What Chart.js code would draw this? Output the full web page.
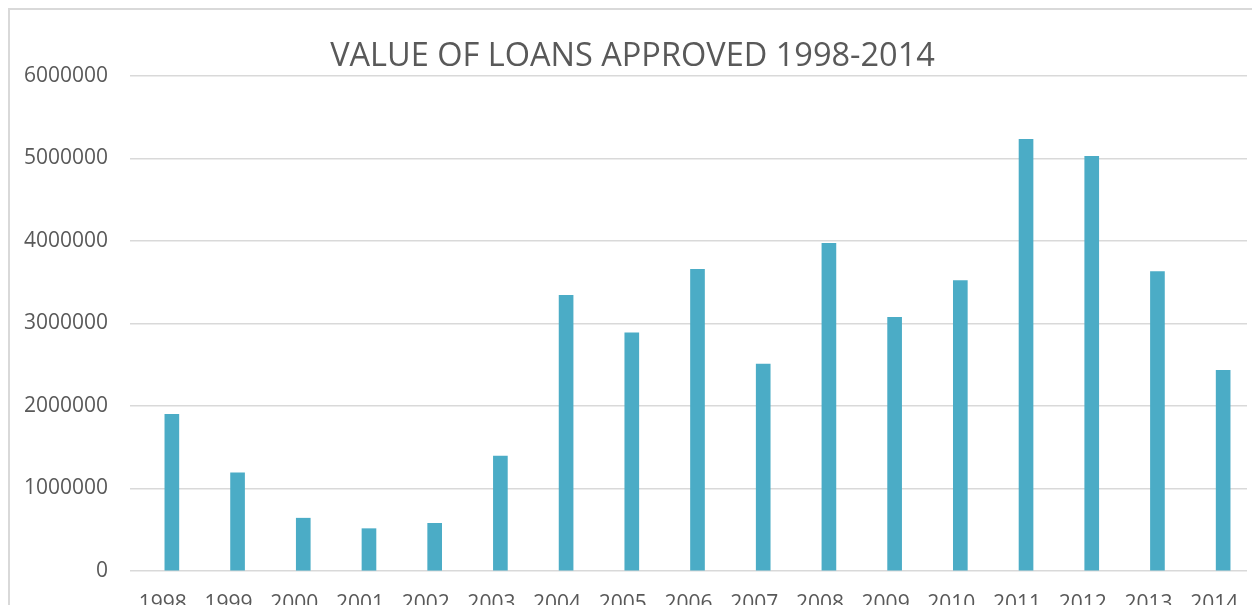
<!DOCTYPE html>
<html>
<head>
<meta charset="utf-8">
<script src="https://cdn.jsdelivr.net/npm/chart.js@4.4.1/dist/chart.umd.min.js"></script>
<style>
  html, body { margin: 0; padding: 0; background: #fff; overflow: hidden; }
  #moldura {
    position: absolute; left: 8px; top: 8px; width: 1400px; height: 800px;
    border-top: 2px solid #d9d9d9; border-left: 2px solid #d9d9d9;
  }
  #grafico { position: absolute; left: 0; top: 0; }
</style>
</head>
<body>
<div id="moldura"></div>
<canvas id="grafico" width="1252" height="640"></canvas>
<script>
// Dados
const anos = ["1998", "1999", "2000", "2001", "2002", "2003", "2004", "2005", "2006",
              "2007", "2008", "2009", "2010", "2011", "2012", "2013", "2014"];
const valoresEmprestimos = [1900000, 1190000, 640000, 513000, 578000, 1394000, 3340000, 2886000, 3658000,
                            2509000, 3973000, 3075000, 3519000, 5233000, 5026000, 3628000, 2432000];
const tituloGrafico = "VALUE OF LOANS APPROVED 1998-2014";

const corTexto = "#595959";
const corGrade = "#d9d9d9";

// No original as barras ficam um pouco à direita do centro da categoria
const deslocaBarras = {
    id: "deslocaBarras",
    beforeDatasetsDraw(chart) {
        chart.ctx.save();
        chart.ctx.translate(9, 0);
    },
    afterDatasetsDraw(chart) {
        chart.ctx.restore();
    }
};

const ctx = document.getElementById("grafico").getContext("2d");
new Chart(ctx, {
    type: "bar",
    data: {
        labels: anos,
        datasets: [{
            label: "Value of loans",
            data: valoresEmprestimos,
            backgroundColor: "#4bacc6",
            barThickness: 14
        }]
    },
    options: {
        responsive: false,
        animation: false,
        layout: { padding: { left: 18, right: 5, top: 0, bottom: 0 } },
        plugins: {
            legend: { display: false },
            tooltip: { enabled: false },
            title: {
                display: true,
                text: tituloGrafico,
                color: corTexto,
                font: { family: "Open Sans", size: 32.5, weight: "normal" },
                padding: { top: 37, bottom: 0 }
            }
        },
        scales: {
            x: {
                grid: { display: false, drawTicks: false },
                border: { display: false },
                ticks: {
                    color: corTexto,
                    font: { family: "Open Sans", size: 21 },
                    padding: 20,
                    maxRotation: 0,
                    autoSkip: false
                },
                afterFit(scale) {
                    scale.height = 69;
                    // sem folga extra nas laterais, a área do gráfico fica como no original
                    scale.paddingLeft = 0;
                    scale.paddingRight = 0;
                }
            },
            y: {
                min: 0,
                max: 6000000,
                grid: { color: corGrade, lineWidth: 1.5, drawTicks: false },
                border: { display: false },
                ticks: {
                    stepSize: 1000000,
                    color: corTexto,
                    font: { family: "Open Sans", size: 21 },
                    padding: 22,
                    callback: v => String(v)
                },
                afterFit(scale) { scale.width = 112; }
            }
        }
    },
    plugins: [deslocaBarras]
});
</script>
</body>
</html>
